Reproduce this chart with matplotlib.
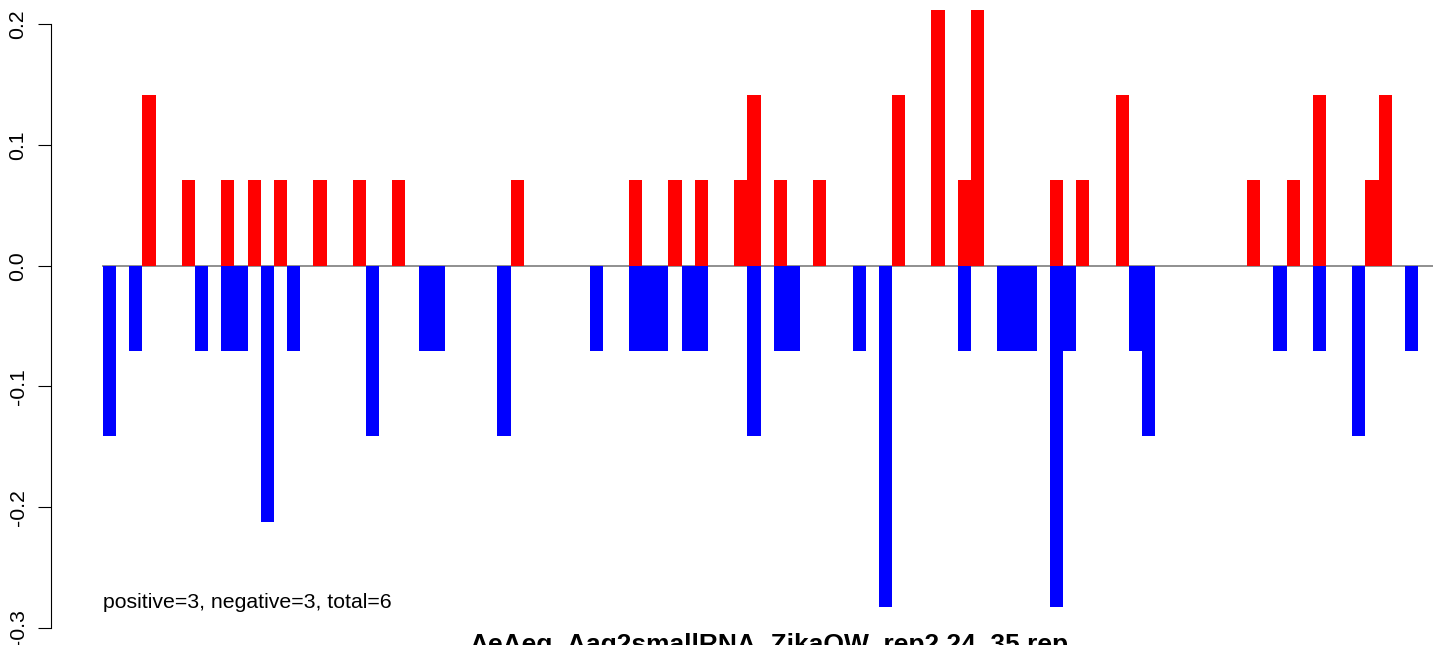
import matplotlib
matplotlib.use("Agg")
import matplotlib.pyplot as plt

#------------------------------------------------------------------------------
#data (slot index along the sequence, bar height)

pos_slots = [3, 6, 9, 11, 13, 16, 19, 22, 31, 40, 43, 45, 48, 49, 51, 54,
             60, 63, 65, 66, 72, 74, 77, 87, 90, 92, 96, 97]
pos_vals = [0.1414, 0.0707, 0.0707, 0.0707, 0.0707, 0.0707, 0.0707, 0.0707,
            0.0707, 0.0707, 0.0707, 0.0707, 0.0707, 0.1414, 0.0707, 0.0707,
            0.1414, 0.2121, 0.0707, 0.2121, 0.0707, 0.0707, 0.1414, 0.0707,
            0.0707, 0.1414, 0.0707, 0.1414]

neg_slots = [0, 2, 7, 9, 10, 12, 14, 20, 24, 25, 30, 37, 40, 41, 42, 44, 45,
             49, 51, 52, 57, 59, 65, 68, 69, 70, 72, 73, 78, 79, 89, 92, 95, 99]
neg_vals = [-0.1414, -0.0707, -0.0707, -0.0707, -0.0707, -0.2121, -0.0707,
            -0.1414, -0.0707, -0.0707, -0.1414, -0.0707, -0.0707, -0.0707,
            -0.0707, -0.0707, -0.0707, -0.1414, -0.0707, -0.0707, -0.0707,
            -0.2828, -0.0707, -0.0707, -0.0707, -0.0707, -0.2828, -0.0707,
            -0.0707, -0.1414, -0.0707, -0.0707, -0.1414, -0.0707]

yticks = [-0.3, -0.2, -0.1, 0.0, 0.1, 0.2]
ytick_labels = ["-0.3", "-0.2", "-0.1", "0.0", "0.1", "0.2"]

info_text = "positive=3, negative=3, total=6"
title = "AeAeg_Aag2smallRNA_ZikaOW_rep2.24_35.rep"

#------------------------------------------------------------------------------
#figure

plt.rcParams['font.family'] = ['Liberation Sans', 'DejaVu Sans']

W, H = 1433, 645
fig = plt.figure(figsize=(W / 100, H / 100), dpi=100)
ax = fig.add_axes([51 / W, 0, 1 - 51 / W, 1])

ax.plot([0, 120], [0, 0], color='#8f8f8f', lw=1.4, zorder=1)
ax.bar(pos_slots, pos_vals, width=1.0, align='edge', color='#ff0000',
       linewidth=0, zorder=2)
ax.bar(neg_slots, neg_vals, width=1.0, align='edge', color='#0000ff',
       linewidth=0, zorder=2)

ax.set_xlim(-3.954, 101.14)
ax.set_ylim(-0.3142, 0.2201)

for s in ['top', 'right', 'bottom']:
    ax.spines[s].set_visible(False)
ax.spines['left'].set_bounds(-0.3, 0.2)
ax.spines['left'].set_linewidth(0.8)
ax.set_xticks([])
ax.set_yticks(yticks)
ax.set_yticklabels(ytick_labels, rotation=90, va='center', fontsize=15.3)
ax.tick_params(axis='y', direction='out', length=9.4, width=0.8, pad=7.5)

ax.text(0, -0.2836, info_text, ha='left', va='baseline', fontsize=15.3)

fig.text(768.5 / W, (H - 652) / H, title, ha='center', va='baseline',
         fontsize=19, fontweight='bold')

fig.savefig("out.png", dpi=100)
